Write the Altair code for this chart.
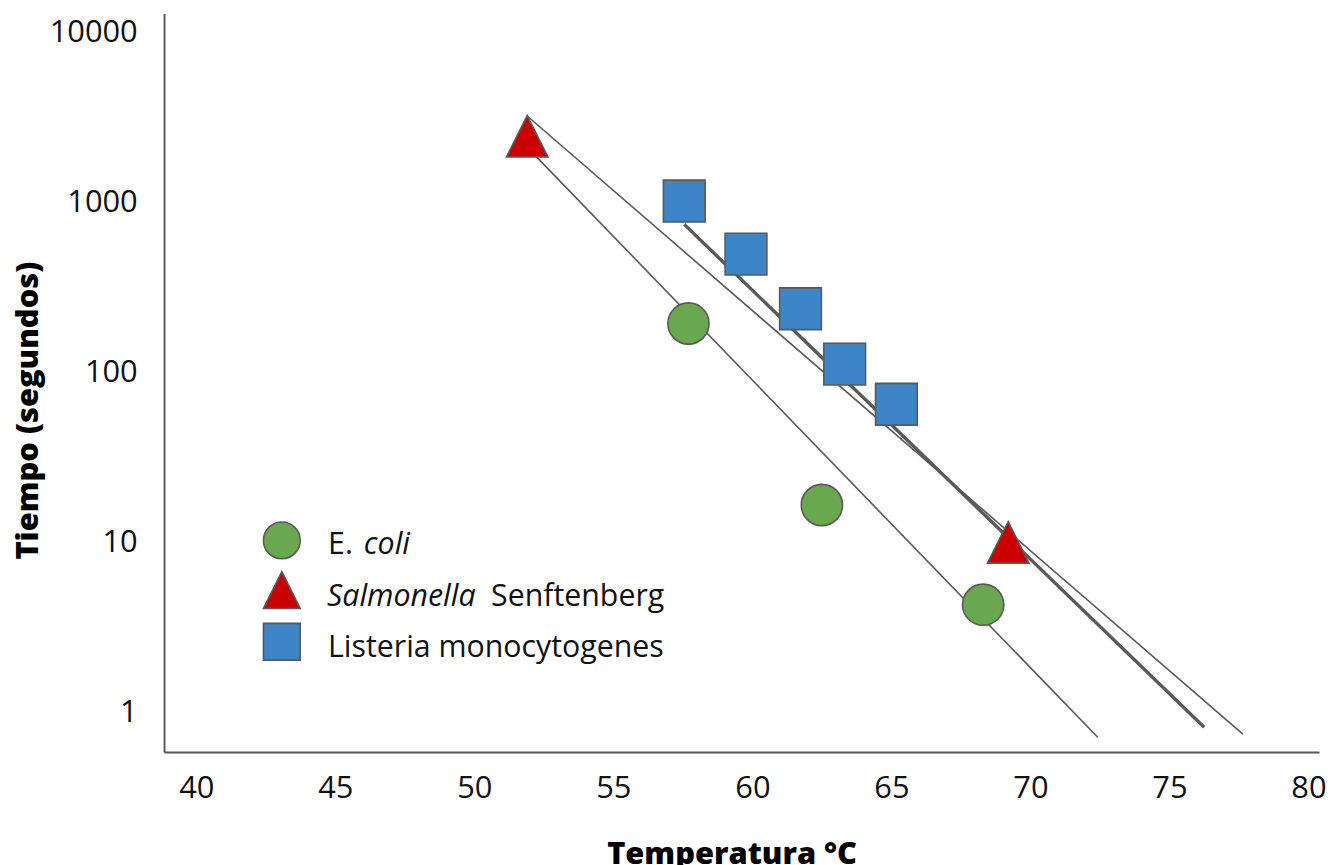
import altair as alt
import pandas as pd

FONT = "Open Sans"
LINE_COLOR = "#595959"

# ---- data ----
series_names = ["E. coli", "Salmonella Senftenberg", "Listeria monocytogenes"]
series_colors = ["#6AA84F", "#CC0000", "#3D85C6"]

ecoli_temp = [57.7, 62.5, 68.3]
ecoli_time = [194, 16.6, 4.3]

salm_temp = [51.9, 69.2]
salm_time = [2450, 10]

list_temp = [57.55, 59.77, 61.73, 63.32, 65.18]
list_time = [1020, 497, 237, 112, 65]

# trend lines (end points)
ecoli_fit_temp = [51.94, 72.42]
ecoli_fit_time = [2080, 0.714]
salm_fit_temp = [51.9, 77.64]
salm_fit_time = [3226, 0.744]
list_fit_temp = [57.55, 76.25]
list_fit_time = [743, 0.817]

x_ticks = [40, 45, 50, 55, 60, 65, 70, 75, 80]
y_ticks = [1, 10, 100, 1000, 10000]

# ---- tables ----
pts = pd.DataFrame({
    "serie": [series_names[0]] * len(ecoli_temp) + [series_names[1]] * len(salm_temp) + [series_names[2]] * len(list_temp),
    "temp": ecoli_temp + salm_temp + list_temp,
    "tiempo": ecoli_time + salm_time + list_time,
})
thin_fits = pd.DataFrame({
    "serie": [series_names[0]] * 2 + [series_names[1]] * 2,
    "temp": ecoli_fit_temp + salm_fit_temp,
    "tiempo": ecoli_fit_time + salm_fit_time,
})
thick_fit = pd.DataFrame({
    "serie": [series_names[2]] * 2,
    "temp": list_fit_temp,
    "tiempo": list_fit_time,
})

TRI = "M0,-1L1,1L-1,1Z"
shape_scale = alt.Scale(domain=series_names, range=["circle", TRI, "square"])
color_scale = alt.Scale(domain=series_names, range=series_colors)

x_enc = alt.X(
    "temp:Q",
    scale=alt.Scale(domain=[38.84, 80.38], nice=False, zero=False),
    axis=alt.Axis(
        values=x_ticks, title="Temperatura °C", grid=False, ticks=False, tickSize=0,
        domainColor=LINE_COLOR, domainWidth=2, labelFont=FONT, labelFontSize=31,
        labelColor="#111111", labelPadding=22, labelFlush=False,
        titleFont=FONT, titleFontSize=31, titleFontWeight=800, titleColor="#000000",
        titleX=571, titleY=112, titleBaseline="alphabetic", titleAlign="center",
    ),
)
y_enc = alt.Y(
    "tiempo:Q",
    scale=alt.Scale(type="log", domain=[0.584, 12920], nice=False),
    axis=alt.Axis(
        values=y_ticks, format="d", title="Tiempo (segundos)", grid=False, ticks=False, tickSize=0,
        domainColor=LINE_COLOR, domainWidth=2, labelFont=FONT, labelFontSize=31,
        labelColor="#111111", labelPadding=27, labelFlush=False,
        titleFont=FONT, titleFontSize=31, titleFontWeight=800, titleColor="#000000",
        titleX=-136, titleY=399, titleBaseline="middle", titleAlign="center", titleAngle=270,
    ),
)

thin_lines = alt.Chart(thin_fits).mark_line(color=LINE_COLOR, strokeWidth=1.6).encode(
    x=x_enc,
    y=y_enc,
    detail="serie:N",
)
thick_line = alt.Chart(thick_fit).mark_line(color=LINE_COLOR, strokeWidth=3.4).encode(
    x="temp:Q",
    y="tiempo:Q",
    detail="serie:N",
)

points = alt.Chart(pts).mark_point(filled=True, opacity=1, stroke=LINE_COLOR, strokeWidth=1.6).encode(
    x="temp:Q",
    y="tiempo:Q",
    shape=alt.Shape("serie:N", scale=shape_scale, legend=None),
    fill=alt.Fill("serie:N", scale=color_scale, legend=None),
    size=alt.Size("serie:N", scale=alt.Scale(domain=series_names, range=[1720, 1764, 1849]), legend=None),
)

# ---- manual legend (mixed italic text) ----
legend_layers = []
sym_y = [530, 580, 632]
for i, name in enumerate(series_names):
    legend_layers.append(
        alt.Chart(pd.DataFrame({"serie": [name]})).mark_point(
            filled=True, opacity=1, stroke=LINE_COLOR, strokeWidth=1.6, size=1369,
            shape=["circle", TRI, "square"][i], fill=series_colors[i],
        ).encode(x=alt.value(118.5), y=alt.value(sym_y[i]))
    )

legend_text = [
    ("E.", "normal", 165, 544),
    ("coli", "italic", 201, 544),
    ("Salmonella", "italic", 164, 596),
    ("Senftenberg", "normal", 329, 596),
    ("Listeria monocytogenes", "normal", 165, 647),
]
for txt, style, tx, ty in legend_text:
    legend_layers.append(
        alt.Chart(pd.DataFrame({"t": [txt]})).mark_text(
            font=FONT, fontSize=30.5, fontStyle=style, align="left", baseline="alphabetic", color="#111111",
        ).encode(x=alt.value(tx), y=alt.value(ty), text="t:N")
    )

chart = alt.layer(thin_lines, thick_line, points, *legend_layers).properties(
    width=1162,
    height=743,
    autosize=alt.AutoSizeParams(type="none"),
    padding={"left": 157, "top": 3, "right": 7, "bottom": 115},
    background="white",
).configure_view(stroke=None)

chart.save("out.html", embed_options={"renderer": "svg", "actions": False})
